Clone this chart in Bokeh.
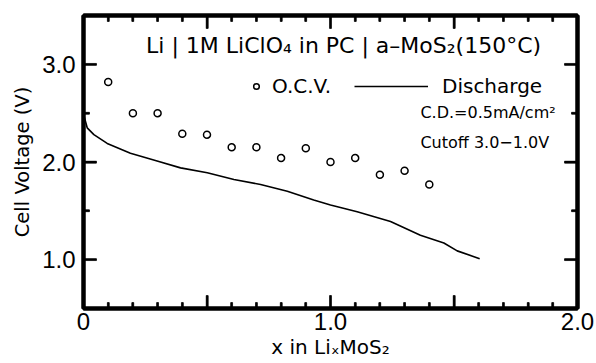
from bokeh.plotting import figure
from bokeh.models import (Range1d, FixedTicker, LinearAxis, Legend, LegendItem,
                          Label, PrintfTickFormatter)
from bokeh.embed import file_html
from bokeh.resources import INLINE

# ---- data ----
ocv_x = [0.1, 0.2, 0.3, 0.4, 0.5, 0.6, 0.7, 0.8, 0.9, 1.0, 1.1, 1.2, 1.3, 1.4]
ocv_v = [2.82, 2.50, 2.50, 2.29, 2.28, 2.15, 2.15, 2.04, 2.14, 2.00, 2.04, 1.87, 1.91, 1.77]

dis_x = [0.0, 0.015, 0.042, 0.096, 0.19, 0.298, 0.393, 0.501, 0.609, 0.717,
         0.825, 0.932, 1.0, 1.108, 1.243, 1.364, 1.459, 1.513, 1.604]
dis_v = [2.49, 2.35, 2.28, 2.19, 2.09, 2.01, 1.94, 1.89, 1.82, 1.77,
         1.70, 1.61, 1.56, 1.49, 1.39, 1.25, 1.17, 1.09, 1.01]

x_major = [0, 0.5, 1.0, 1.5, 2.0]
x_minor = [0.1, 0.2, 0.3, 0.4, 0.6, 0.7, 0.8, 0.9, 1.1, 1.2, 1.3, 1.4, 1.6, 1.7, 1.8, 1.9]
x_labels = {0: "0", 0.5: "", 1.0: "1.0", 1.5: "", 2.0: "2.0"}
y_major = [1.0, 2.0, 3.0]
y_minor = [0.5, 1.5, 2.5, 3.5]

title_text = "Li | 1M LiClO\u2084 in PC | a\u2013MoS\u2082(150\u00b0C)"
cd_text = "C.D.=0.5mA/cm\u00b2"
cutoff_text = "Cutoff 3.0\u22121.0V"
x_label = "x in Li\u2093MoS\u2082"
y_label = "Cell Voltage (V)"

INK = "black"
X0, X1 = 0.0, 2.0
Y0, Y1 = 0.5, 3.5
FRAME_W, FRAME_H = 494, 293          # frame size in px (596-83-19, 363-15-55)
MAJ_PX, MIN_PX, TICK_W_PX = 13, 6, 1.8

p = figure(width=596, height=363, output_backend="svg", toolbar_location=None,
           x_range=Range1d(X0, X1), y_range=Range1d(Y0, Y1),
           min_border_left=83, min_border_right=19, min_border_top=15,
           min_border_bottom=55)
p.grid.visible = False
p.outline_line_color = INK
p.outline_line_width = 4

def style_axis(ax, ticks, minor):
    ax.ticker = FixedTicker(ticks=ticks, minor_ticks=minor)
    ax.axis_line_color = INK
    ax.axis_line_width = 4
    ax.major_tick_line_color = INK
    ax.major_tick_line_width = 2
    ax.minor_tick_line_color = INK
    ax.minor_tick_line_width = 2
    ax.major_tick_in = 13
    ax.major_tick_out = 0
    ax.minor_tick_in = 6
    ax.minor_tick_out = 0
    ax.major_label_text_font = "Liberation Sans"
    ax.major_label_text_font_size = "24px"
    ax.major_label_text_color = INK

xb = p.xaxis[0]
style_axis(xb, x_major, x_minor)
xb.major_label_standoff = 4
xb.major_label_overrides = x_labels
xb.axis_label = x_label
xb.axis_label_text_font = "DejaVu Sans"
xb.axis_label_text_font_size = "20px"
xb.axis_label_text_font_style = "normal"
xb.axis_label_text_color = INK
xb.axis_label_standoff = 2

yl = p.yaxis[0]
style_axis(yl, y_major, y_minor)
yl.major_label_standoff = 8
yl.formatter = PrintfTickFormatter(format="%.1f")
yl.axis_label = y_label
yl.axis_label_text_font = "DejaVu Sans"
yl.axis_label_text_font_size = "19.5px"
yl.axis_label_text_font_style = "normal"
yl.axis_label_text_color = INK
yl.axis_label_standoff = 5

xt = LinearAxis()
style_axis(xt, x_major, x_minor)
xt.major_label_text_font_size = "1px"
xt.major_label_text_alpha = 0
xt.major_label_standoff = 0
p.add_layout(xt, "above")
yr = LinearAxis()
style_axis(yr, y_major, y_minor)
yr.major_label_text_font_size = "1px"
yr.major_label_text_alpha = 0
yr.major_label_standoff = 0
p.add_layout(yr, "right")

# data first
r_dis = p.line(dis_x, dis_v, line_color=INK, line_width=1.6)
r_ocv = p.scatter(ocv_x, ocv_v, marker="circle", size=7, fill_color="white",
                  line_color=INK, line_width=1.5)

# inward tick marks drawn after the data, as thin filled bars (px -> data units)
px_x = (X1 - X0) / FRAME_W
px_y = (Y1 - Y0) / FRAME_H
hw_x = TICK_W_PX / 2 * px_x
hw_y = TICK_W_PX / 2 * px_y
tx_l, tx_r, tx_b, tx_t = [], [], [], []
for ticks, L in ((x_major, MAJ_PX), (x_minor, MIN_PX)):
    for t in ticks:
        for y_from, y_to in ((Y0, Y0 + L * px_y), (Y1 - L * px_y, Y1)):
            tx_l.append(t - hw_x); tx_r.append(t + hw_x)
            tx_b.append(y_from); tx_t.append(y_to)
for ticks, L in ((y_major, MAJ_PX), (y_minor, MIN_PX)):
    for t in ticks:
        for x_from, x_to in ((X0, X0 + L * px_x), (X1 - L * px_x, X1)):
            tx_l.append(x_from); tx_r.append(x_to)
            tx_b.append(t - hw_y); tx_t.append(t + hw_y)
p.quad(left=tx_l, right=tx_r, bottom=tx_b, top=tx_t,
       fill_color=INK, line_color=INK, line_width=0.5)

common = dict(orientation="horizontal", padding=0, margin=0, spacing=0,
              border_line_color=None, background_fill_alpha=0,
              label_text_font="DejaVu Sans", label_text_font_size="20px",
              label_text_color=INK, glyph_height=20, label_height=20)
leg1 = Legend(items=[LegendItem(label="O.C.V.", renderers=[r_ocv])],
              location=(166, 210), glyph_width=14, label_standoff=9, **common)
leg2 = Legend(items=[LegendItem(label="Discharge", renderers=[r_dis])],
              location=(271, 210), glyph_width=74, label_standoff=14, **common)
p.add_layout(leg1)
p.add_layout(leg2)

p.add_layout(Label(x=1.053, y=3.188, text=title_text, text_align="center",
                   text_baseline="middle", text_font="DejaVu Sans",
                   text_font_size="22px", text_color=INK))
p.add_layout(Label(x=1.364, y=2.51, text=cd_text, text_align="left",
                   text_baseline="middle", text_font="DejaVu Sans",
                   text_font_size="16px", text_color=INK))
p.add_layout(Label(x=1.364, y=2.20, text=cutoff_text, text_align="left",
                   text_baseline="middle", text_font="DejaVu Sans",
                   text_font_size="16px", text_color=INK))

open("out.html", "w").write(file_html(p, INLINE))
